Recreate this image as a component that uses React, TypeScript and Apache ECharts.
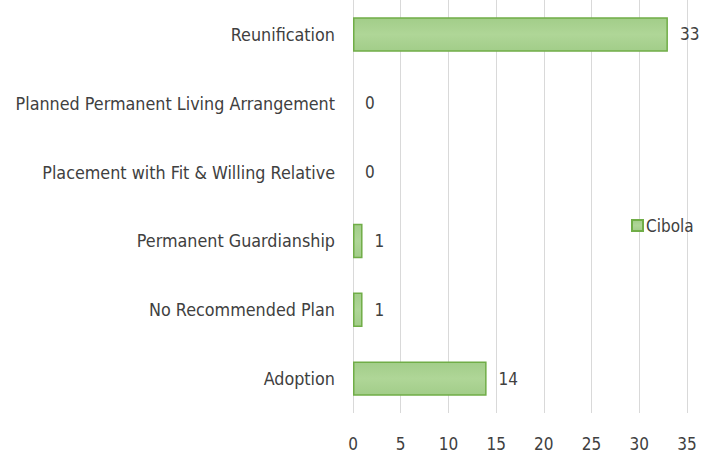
import React, { useEffect, useRef } from "react";
import * as echarts from "echarts";

const categories = [
  "Reunification",
  "Planned Permanent Living Arrangement",
  "Placement with Fit & Willing Relative",
  "Permanent Guardianship",
  "No Recommended Plan",
  "Adoption",
];
const cibolaValues = [33, 0, 0, 1, 1, 14];
const seriesName = "Cibola";

const FONT = "'DejaVu Sans Condensed', 'DejaVu Sans', sans-serif";

export default function App() {
  const ref = useRef<HTMLDivElement>(null);
  useEffect(() => {
    const chart = echarts.init(ref.current!, null, { renderer: "svg" });
    chart.setOption({
      animation: false,
      textStyle: { fontFamily: FONT },
      legend: {
        data: [seriesName],
        orient: "vertical",
        left: 626,
        top: 212,
        itemWidth: 11,
        itemHeight: 11,
        itemGap: 4,
        icon: "rect",
        textStyle: { fontFamily: FONT, fontSize: 17, color: "#404040", padding: [0, 0, 0, -2] },
      },
      grid: { left: 353, right: 28, top: 0, bottom: 43, containLabel: false },
      xAxis: {
        type: "value",
        min: 0,
        max: 35,
        interval: 5,
        axisLine: { show: false },
        axisTick: { show: false },
        splitLine: { lineStyle: { color: "#d9d9d9", width: 1 } },
        axisLabel: { fontFamily: FONT, fontSize: 17, color: "#404040", margin: 22 },
      },
      yAxis: {
        type: "category",
        data: categories,
        inverse: true,
        axisLine: { show: false },
        axisTick: { show: false },
        axisLabel: { fontFamily: FONT, fontSize: 17.8, color: "#404040", margin: 18 },
      },
      series: [
        {
          name: seriesName,
          type: "bar",
          data: cibolaValues.map((v) =>
            v === 0 ? { value: v, itemStyle: { borderWidth: 0 } } : v
          ),
          barWidth: "50%",
          itemStyle: {
            color: {
              type: "linear",
              x: 0, y: 0, x2: 0, y2: 1,
              colorStops: [
                { offset: 0, color: "#a2cd89" },
                { offset: 0.5, color: "#afd697" },
                { offset: 1, color: "#a2cd89" },
              ],
            },
            borderColor: "#70ad47",
            borderWidth: 1.5,
          },
          label: {
            show: true,
            position: "right",
            distance: 12,
            fontFamily: FONT,
            fontSize: 17,
            color: "#404040",
          },
        },
      ],
    });
    return () => chart.dispose();
  }, []);
  return (
    <div
      ref={ref}
      style={{ position: "fixed", left: 0, top: 0, width: 715, height: 456, background: "#fff" }}
    />
  );
}
